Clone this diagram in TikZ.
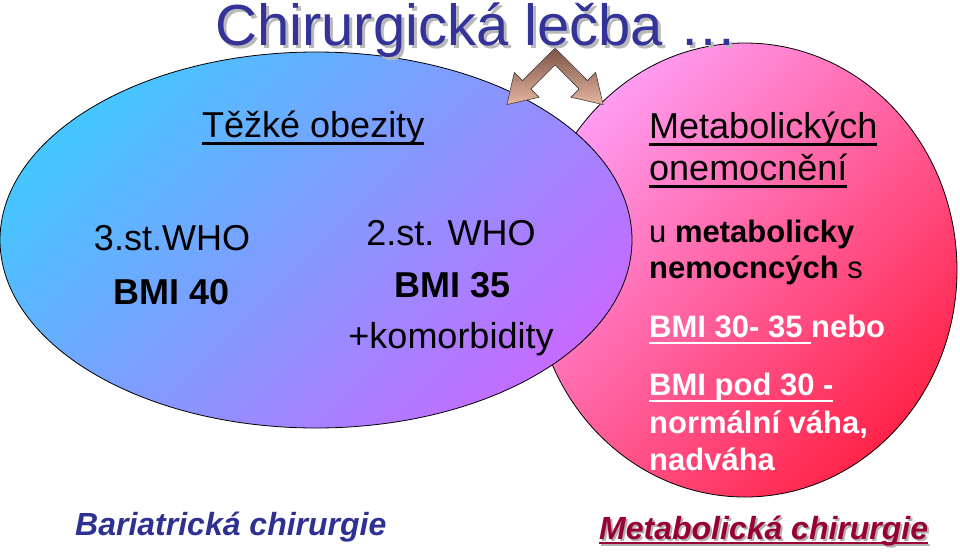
\documentclass[tikz,border=0pt]{standalone}
\usepackage{fontspec}
\setmainfont{Liberation Sans}
\usetikzlibrary{shapes.geometric}
\definecolor{titleblue}{HTML}{333399}
\definecolor{labelblue}{HTML}{2E3192}
\definecolor{labelred}{HTML}{990033}
\definecolor{obecyan}{HTML}{45C6FF}
\definecolor{obeviolet}{HTML}{C46CFF}
\definecolor{metapink}{HTML}{FF9CF2}
\definecolor{metared}{HTML}{FF2448}
\definecolor{arrowdark}{HTML}{7B5345}
\definecolor{arrowlight}{HTML}{E6B6A0}
% underline with a fixed depth below the baseline
\newcommand{\ulin}[2][7.5pt]{\setbox0\hbox{#2}\rlap{\rule[-#1]{\wd0}{2.2pt}}\box0}

\begin{document}
\begin{tikzpicture}[x=1pt, y=-1pt,
		big/.style={inner sep=0pt, anchor=base west, font=\fontsize{36}{40}\selectfont},
		mid/.style={inner sep=0pt, anchor=base, font=\fontsize{36}{40}\selectfont},
		body/.style={inner sep=0pt, anchor=base west, font=\fontsize{31}{36}\selectfont},
		label/.style={inner sep=0pt, anchor=base west, font=\fontsize{32}{36}\selectfont\bfseries\itshape}]
	\useasboundingbox (0, 0) rectangle (960, 554);

	\draw (745, 270) 	node[draw, ellipse, line width=0.8pt, minimum width=424pt, minimum height=454pt, top color=metapink, bottom color=metared, shading angle=45] 	(metab) 	{};
	\draw (316, 240) 	node[draw, ellipse, line width=0.8pt, minimum width=632pt, minimum height=376pt, top color=obecyan, bottom color=obeviolet, shading angle=45] 	(obes) 		{};

	% bent double arrow
	\draw[draw=gray!50!black, line width=0.6pt, top color=arrowdark, bottom color=arrowlight]
		(555, 48) -- (522.5, 80.6) -- (514.3, 72.4) -- (506.9, 104.6) -- (539.1, 97.2) -- (530.9, 89.0)
		-- (555, 65) -- (579.1, 89.0) -- (570.9, 97.2) -- (603.1, 104.6) -- (595.7, 72.4) -- (587.5, 80.6) -- cycle;

	\draw (218, 48) 	node[inner sep=0pt, anchor=base west, font=\fontsize{58}{62}\selectfont, text=gray!55] 	(title_sh) 	{Chirurgická lečba …};
	\draw (215, 45) 	node[inner sep=0pt, anchor=base west, font=\fontsize{58}{62}\selectfont, text=titleblue] 	(title) 	{Chirurgická lečba …};

	\draw (202, 137) 	node[big] 	(heavy) 	{\ulin{Těžké obezity}};
	\draw (172, 250) 	node[mid] 	(who3) 		{3.st.WHO};
	\draw (172, 304) 	node[mid, font=\fontsize{36}{40}\selectfont\bfseries] 	(bmi40) 	{BMI 40};
	\draw (451, 245) 	node[mid] 	(who2) 		{2.st. WHO};
	\draw (453, 297) 	node[mid, font=\fontsize{36}{40}\selectfont\bfseries] 	(bmi35) 	{BMI 35};
	\draw (451, 348) 	node[mid] 	(comorb) 	{+komorbidity};

	\draw (649, 138) 	node[big] 	(metdis) 	{\ulin{Metabolických}};
	\draw (649, 180) 	node[big] 	(metdis_a) 	{\ulin{onemocnění}};
	\draw (649, 242) 	node[body] 	(sick) 		{u \textbf{metabolicky}};
	\draw (649, 278) 	node[body] 	(sick_a) 	{\textbf{nemocncých} s};
	\draw (649, 337) 	node[body, text=white, font=\fontsize{31}{36}\selectfont\bfseries] 	(bmi30) 	{\ulin[7pt]{BMI 30- 35 }nebo};
	\draw (649, 395) 	node[body, text=white, font=\fontsize{31}{36}\selectfont\bfseries] 	(bmi30_a) 	{\ulin[7pt]{BMI pod 30 -}};
	\draw (649, 433) 	node[body, text=white, font=\fontsize{31}{36}\selectfont\bfseries] 	(normal) 	{normální váha,};
	\draw (649, 470) 	node[body, text=white, font=\fontsize{31}{36}\selectfont\bfseries] 	(normal_a) 	{nadváha};

	\draw (75, 535) 	node[label, text=labelblue] 	(bariat) 	{Bariatrická chirurgie};
	\draw (601, 541) 	node[label, text=gray!60] 	(metsurg_sh) 	{\ulin[5pt]{Metabolická chirurgie}};
	\draw (599, 539) 	node[label, text=labelred] 	(metsurg) 	{\ulin[5pt]{Metabolická chirurgie}};
\end{tikzpicture}
\end{document}
